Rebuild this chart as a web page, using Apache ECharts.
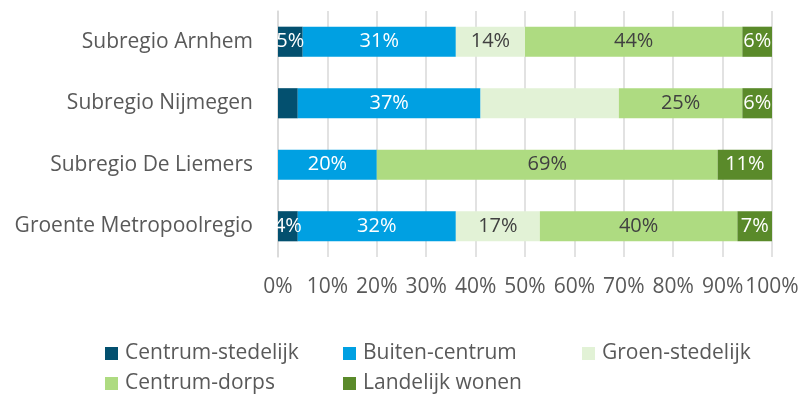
<!DOCTYPE html>
<html><head><meta charset="utf-8">
<script src="https://cdn.jsdelivr.net/npm/echarts@6/dist/echarts.min.js"></script>
<style>html,body{margin:0;padding:0;background:#fff}#c{width:803px;height:400px}</style>
</head><body><div id="c"></div>
<script>
const categories = ['Subregio Arnhem', 'Subregio Nijmegen', 'Subregio De Liemers', 'Groente Metropoolregio'];
const seriesNames = ['Centrum-stedelijk', 'Buiten-centrum', 'Groen-stedelijk', 'Centrum-dorps', 'Landelijk wonen'];
const centrumStedelijk = [5, 4, 0, 4];
const buitenCentrum = [31, 37, 20, 32];
const groenStedelijk = [14, 28, 0, 17];
const centrumDorps = [44, 25, 69, 40];
const landelijkWonen = [6, 6, 11, 7];
// labels hidden in the reference for these cells: [seriesIndex, categoryIndex]
const hiddenLabels = [[0, 1], [2, 1]];
const xTicks = [0, 10, 20, 30, 40, 50, 60, 70, 80, 90, 100];

const colors = ['#03506F', '#00A0E2', '#E2F2D6', '#AEDB81', '#5A8A2A'];
const labelColors = ['#ffffff', '#ffffff', '#404040', '#404040', '#ffffff'];
const allValues = [centrumStedelijk, buitenCentrum, groenStedelijk, centrumDorps, landelijkWonen];
const FONT = 'Open Sans';
const FS = 21;

const series = seriesNames.map((name, si) => ({
  name, type: 'bar', stack: 'total', barWidth: '49%',
  itemStyle: { color: colors[si] },
  label: {
    show: true, position: 'inside', color: labelColors[si], fontFamily: FONT, fontSize: 20,
    formatter: p => p.value > 0 ? p.value + '%' : ''
  },
  data: allValues[si].map((v, ci) => {
    const hide = hiddenLabels.some(h => h[0] === si && h[1] === ci);
    return hide ? { value: v, label: { show: false } } : v;
  })
}));

const legendBase = {
  orient: 'vertical', padding: 0, itemWidth: 13, itemHeight: 13, itemGap: 9, icon: 'rect',
  textStyle: { color: '#595959', fontFamily: FONT, fontSize: FS, padding: [0, 0, 0, 2] }, top: 343
};

const chart = echarts.init(document.getElementById('c'));
chart.setOption({
  animation: false,
  textStyle: { fontFamily: FONT },
  grid: { left: 278, right: 31, top: 11, bottom: 143, containLabel: false },
  xAxis: {
    type: 'value', min: 0, max: 100, interval: 10,
    axisLabel: { formatter: v => xTicks.includes(v) ? v + '%' : '', color: '#595959', fontFamily: FONT, fontSize: FS, margin: 20 },
    splitLine: { show: true, lineStyle: { color: '#D9D9D9', width: 1.5 } },
    axisLine: { show: false }, axisTick: { show: false }
  },
  yAxis: {
    type: 'category', data: categories, inverse: true,
    axisLabel: { color: '#595959', fontFamily: FONT, fontSize: FS, margin: 25 },
    axisLine: { show: true, lineStyle: { color: '#D9D9D9', width: 1.5 } },
    axisTick: { show: false }
  },
  legend: [
    Object.assign({}, legendBase, { left: 105, data: ['Centrum-stedelijk', 'Centrum-dorps'] }),
    Object.assign({}, legendBase, { left: 343, data: ['Buiten-centrum', 'Landelijk wonen'] }),
    Object.assign({}, legendBase, { left: 582, data: ['Groen-stedelijk'] })
  ],
  series
});
</script></body></html>
